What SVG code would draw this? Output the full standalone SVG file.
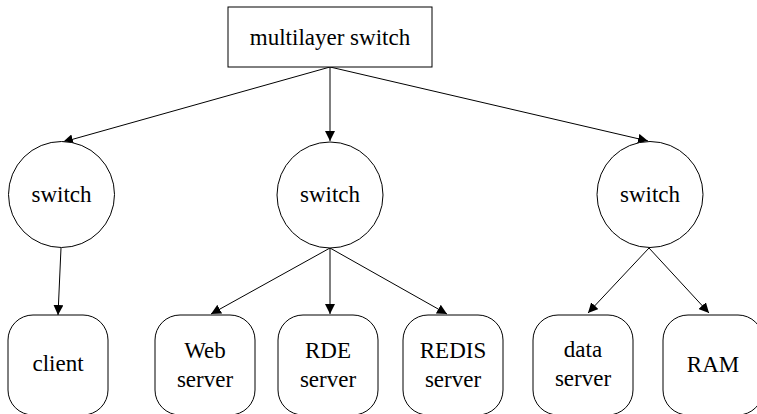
<svg xmlns="http://www.w3.org/2000/svg" width="757" height="414" viewBox="0 0 757 414">
<defs>
<style>
.n{fill:#fff;stroke:#000;stroke-width:1}
.e{fill:none;stroke:#000;stroke-width:1;marker-end:url(#ah)}
</style>
<marker id="ah" viewBox="0 0 10 10" refX="10" refY="5" markerWidth="10" markerHeight="10" markerUnits="userSpaceOnUse" orient="auto">
<path d="M0,0 L10,5 L0,10 z" fill="#000"/>
</marker>
</defs>
<rect width="757" height="414" fill="#fff"/>
<g id="edges">
<line class="e" x1="330" y1="67" x2="63" y2="142"/>
<line class="e" x1="330" y1="67" x2="330" y2="141"/>
<line class="e" x1="330" y1="67" x2="648" y2="141"/>
<line class="e" x1="61" y1="248" x2="58" y2="315"/>
<line class="e" x1="330" y1="248" x2="211" y2="314"/>
<line class="e" x1="330" y1="248" x2="330" y2="314"/>
<line class="e" x1="330" y1="248" x2="447" y2="314"/>
<line class="e" x1="649" y1="248" x2="588" y2="313"/>
<line class="e" x1="649" y1="248" x2="709" y2="313"/>
</g>
<g font-family="Liberation Serif, DejaVu Serif, serif" font-size="23" text-anchor="middle" fill="#000">
<g id="multilayer">
<rect class="n" x="228" y="7" width="204" height="60"/>
<text x="330" y="45">multilayer switch</text>
</g>
<g id="switch1">
<circle class="n" cx="61.5" cy="194.5" r="53"/>
<text x="61.5" y="202">switch</text>
</g>
<g id="switch2">
<circle class="n" cx="330" cy="195" r="53"/>
<text x="330" y="202">switch</text>
</g>
<g id="switch3">
<circle class="n" cx="650" cy="194.5" r="53"/>
<text x="650" y="202">switch</text>
</g>
<g id="client">
<rect class="n" x="8" y="315" width="100" height="100" rx="25"/>
<text x="58" y="371">client</text>
</g>
<g id="web">
<rect class="n" x="155" y="315" width="100" height="100" rx="25"/>
<text x="205" y="358">Web</text>
<text x="205" y="387">server</text>
</g>
<g id="rde">
<rect class="n" x="278" y="315" width="100" height="100" rx="25"/>
<text x="328" y="358">RDE</text>
<text x="328" y="387">server</text>
</g>
<g id="redis">
<rect class="n" x="403" y="315" width="100" height="100" rx="25"/>
<text x="453" y="358">REDIS</text>
<text x="453" y="387">server</text>
</g>
<g id="data">
<rect class="n" x="533" y="315" width="100" height="100" rx="25"/>
<text x="583" y="357">data</text>
<text x="583" y="386">server</text>
</g>
<g id="ram">
<rect class="n" x="663" y="315" width="100" height="100" rx="25"/>
<text x="713" y="372">RAM</text>
</g>
</g>
</svg>
